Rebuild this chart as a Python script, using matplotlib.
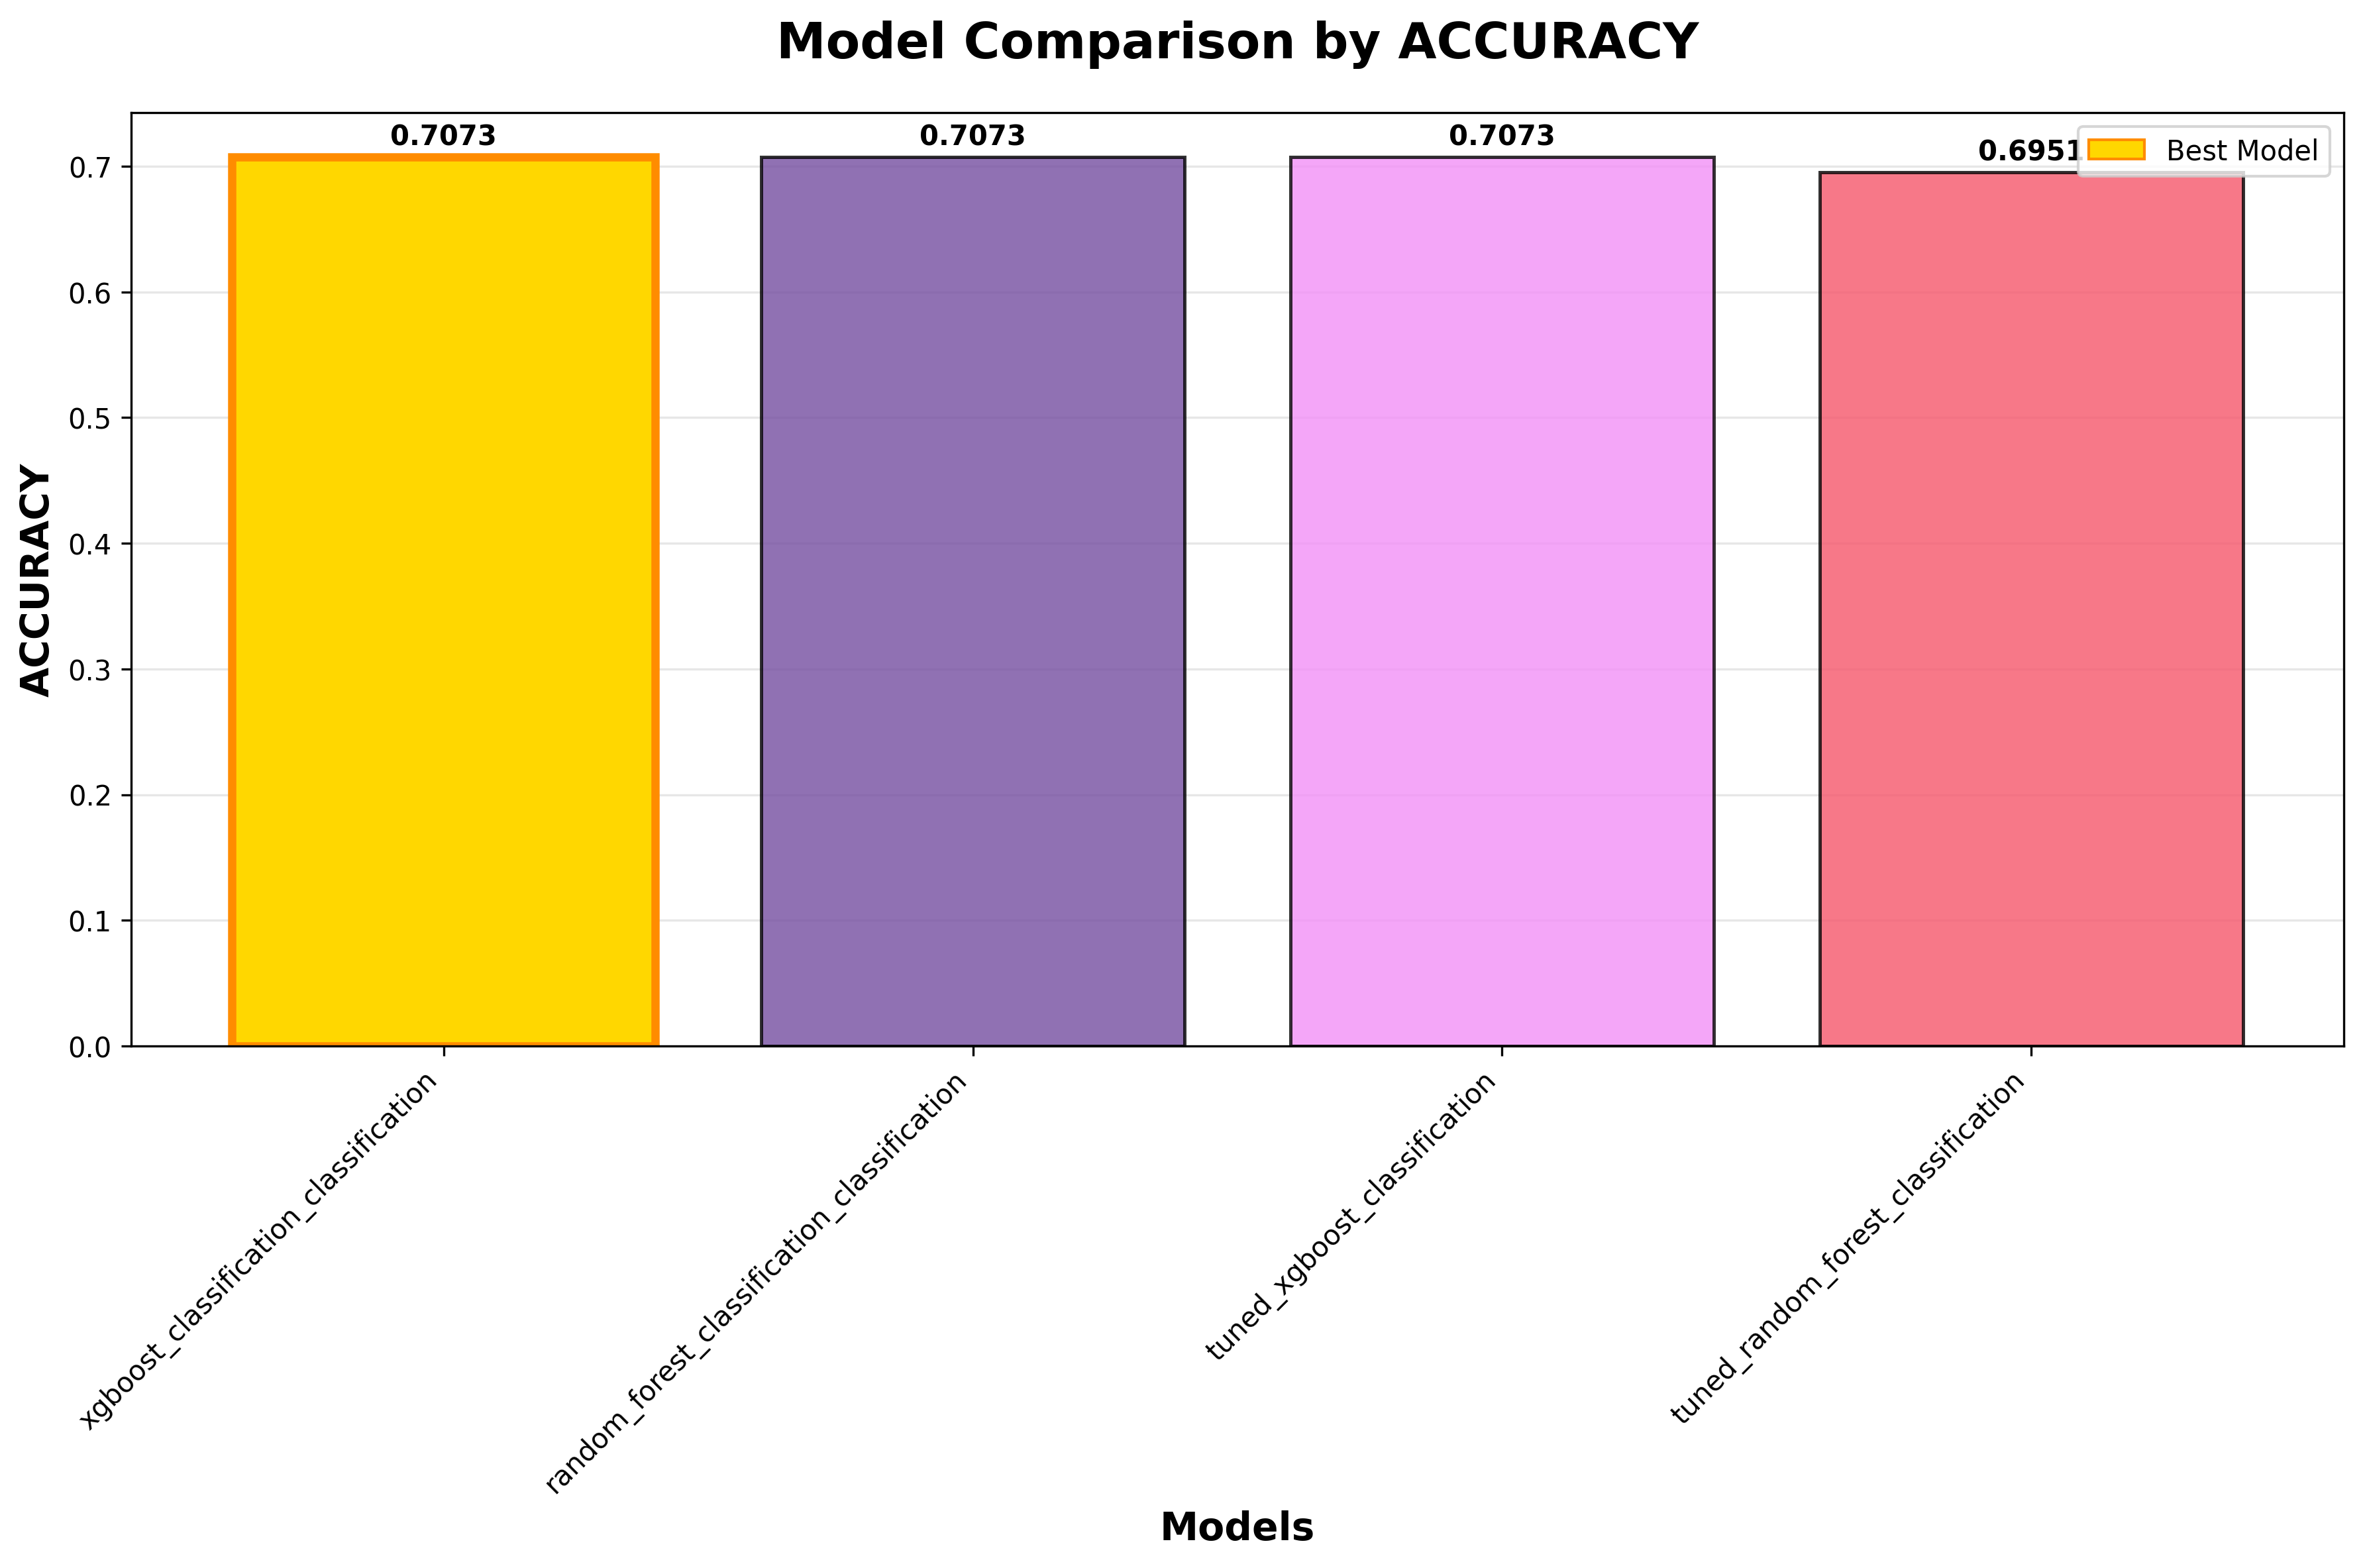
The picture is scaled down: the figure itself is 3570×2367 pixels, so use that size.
import matplotlib
matplotlib.use("Agg")
import matplotlib.pyplot as plt
from matplotlib.patches import Patch

models = ["xgboost_classification_classification",
          "random_forest_classification_classification",
          "tuned_xgboost_classification",
          "tuned_random_forest_classification"]
accuracy = [0.7073, 0.7073, 0.7073, 0.6951]
bar_colors = ["#FFD700", "#744EA0", "#F290F7", "#F5566B"]
best_index = 0

fig = plt.figure(figsize=(11.9, 7.8933), dpi=300)
ax = fig.add_axes([0.0555, 0.3328, 0.9355, 0.595])

x = list(range(len(models)))
bars = ax.bar(x, accuracy, width=0.8, color=bar_colors, alpha=0.8,
              edgecolor="black", linewidth=1.2, zorder=2)
for i, b in enumerate(bars):
    if i == best_index:
        b.set_alpha(1.0)
        b.set_facecolor("#FFD700")
        b.set_edgecolor("#FF8C00")
        b.set_linewidth(3)

for xi, v in zip(x, accuracy):
    ax.text(xi, v + 0.005, f"{v:.4f}", ha="center", va="bottom",
            fontsize=10, fontweight="bold")

ax.set_ylim(0, max(accuracy) * 1.05)
ax.set_xticks(x)
ax.set_xticklabels(models, rotation=45, ha="right", fontsize=10)
ax.tick_params(axis="y", labelsize=10)
ax.set_xlabel("Models", fontsize=14, fontweight="bold")
ax.set_ylabel("ACCURACY", fontsize=14, fontweight="bold")
ax.set_title("Model Comparison by ACCURACY", fontsize=18, fontweight="bold", pad=20)
ax.grid(axis="y", alpha=0.3, zorder=0)
ax.set_axisbelow(True)

ax.legend(handles=[Patch(facecolor="#FFD700", edgecolor="#FF8C00", linewidth=1.0,
                         label="Best Model")],
          loc="upper right", fontsize=10)

fig.savefig("out.png", dpi=300)
